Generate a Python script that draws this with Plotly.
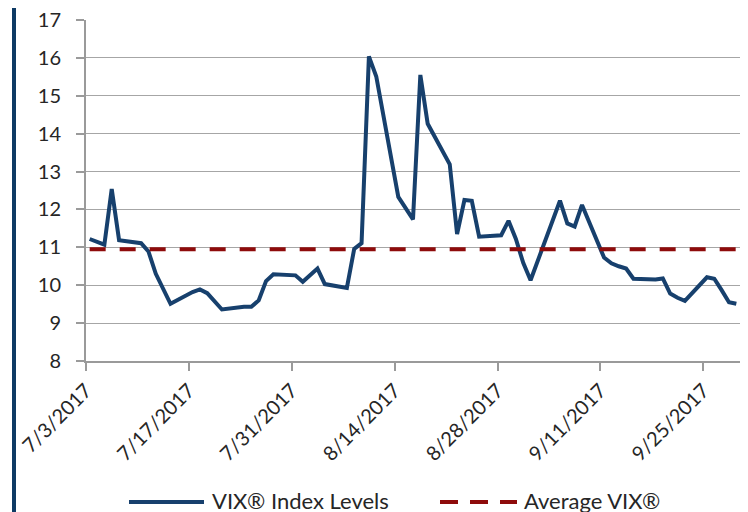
import pandas as pd
import plotly.graph_objects as go

# ---- data -------------------------------------------------------------
dates = [
    "2017-07-03", "2017-07-05", "2017-07-06", "2017-07-07", "2017-07-10", "2017-07-11",
    "2017-07-12", "2017-07-13", "2017-07-14", "2017-07-17", "2017-07-18", "2017-07-19",
    "2017-07-20", "2017-07-21", "2017-07-24", "2017-07-25", "2017-07-26", "2017-07-27",
    "2017-07-28", "2017-07-31",
    "2017-08-01", "2017-08-02", "2017-08-03", "2017-08-04", "2017-08-07", "2017-08-08",
    "2017-08-09", "2017-08-10", "2017-08-11", "2017-08-14", "2017-08-15", "2017-08-16",
    "2017-08-17", "2017-08-18", "2017-08-21", "2017-08-22", "2017-08-23", "2017-08-24",
    "2017-08-25", "2017-08-28", "2017-08-29", "2017-08-30", "2017-08-31",
    "2017-09-01", "2017-09-05", "2017-09-06", "2017-09-07", "2017-09-08", "2017-09-11",
    "2017-09-12", "2017-09-13", "2017-09-14", "2017-09-15", "2017-09-18", "2017-09-19",
    "2017-09-20", "2017-09-21", "2017-09-22", "2017-09-25", "2017-09-26", "2017-09-27",
    "2017-09-28", "2017-09-29",
]
vix_levels = [
    11.22, 11.07, 12.54, 11.19, 11.11, 10.89, 10.30, 9.90, 9.51, 9.82, 9.89, 9.79,
    9.58, 9.36, 9.43, 9.43, 9.60, 10.11, 10.29, 10.26,
    10.09, 10.28, 10.44, 10.03, 9.93, 10.96, 11.11, 16.04, 15.51, 12.33, 12.04, 11.74,
    15.55, 14.26, 13.19, 11.35, 12.25, 12.23, 11.28, 11.32, 11.70, 11.22, 10.59,
    10.13, 12.23, 11.63, 11.55, 12.12, 10.73, 10.58, 10.50, 10.44, 10.17, 10.15, 10.18,
    9.78, 9.67, 9.59, 10.21, 10.17, 9.87, 9.55, 9.51,
]
average_vix = 10.95
tick_dates = ["2017-07-03", "2017-07-17", "2017-07-31", "2017-08-14",
              "2017-08-28", "2017-09-11", "2017-09-25"]
tick_labels = ["7/3/2017", "7/17/2017", "7/31/2017", "8/14/2017",
               "8/28/2017", "9/11/2017", "9/25/2017"]
y_ticks = [8, 9, 10, 11, 12, 13, 14, 15, 16, 17]
series_names = ["VIX® Index Levels", "Average VIX®"]

# ---- style ------------------------------------------------------------
BLUE = "#17406D"
RED = "#8E0B0B"
GRID = "#A6A6A6"
TEXT = "#262626"
FONT = "Lato, 'Open Sans', sans-serif"

x = pd.to_datetime(dates)
half_day = pd.Timedelta(hours=12)
tickvals = pd.to_datetime(tick_dates) - half_day
x_range = [x[0] - half_day, x[-1] + half_day]

fig = go.Figure()
fig.add_trace(go.Scatter(
    x=x, y=vix_levels, mode="lines", name=series_names[0],
    line=dict(color=BLUE, width=4), showlegend=False,
))
fig.add_trace(go.Scatter(
    x=[x[0], x[-1]], y=[average_vix, average_vix], mode="lines", name=series_names[1],
    line=dict(color=RED, width=4, dash="16px,14px"), showlegend=False,
))

# page has an 8px body margin; figure sized to fill the rest of the window
OFF = 8
W, H = 748 - OFF, 512 - OFF
ML, MT = 86 - OFF, 20 - OFF
MR = W - (740 - OFF)
MB = H - (361 - OFF)
pw, ph = W - ML - MR, H - MT - MB


def px_x(p):
    return (p - OFF - ML) / pw


def px_y(p):
    return (H - MB - (p - OFF)) / ph


shapes = [
    # dark blue bar on the left edge
    dict(type="rect", xref="paper", yref="paper",
         x0=px_x(12), x1=px_x(16), y0=-0.6, y1=1.2,
         fillcolor="#0E3A64", line=dict(width=0), layer="above"),
    # legend samples
    dict(type="line", xref="paper", yref="paper",
         x0=px_x(129), x1=px_x(204), y0=px_y(502), y1=px_y(502),
         line=dict(color=BLUE, width=4)),
    dict(type="line", xref="paper", yref="paper",
         x0=px_x(440), x1=px_x(517), y0=px_y(502), y1=px_y(502),
         line=dict(color=RED, width=4, dash="18px,12px")),
]
annotations = [
    dict(xref="paper", yref="paper", x=px_x(210), y=px_y(500),
         xanchor="left", yanchor="middle", showarrow=False,
         text=series_names[0], font=dict(size=22, color=TEXT, family=FONT)),
    dict(xref="paper", yref="paper", x=px_x(522), y=px_y(500),
         xanchor="left", yanchor="middle", showarrow=False,
         text=series_names[1], font=dict(size=22, color=TEXT, family=FONT)),
]

fig.update_layout(
    width=W, height=H,
    margin=dict(l=ML, r=MR, t=MT, b=MB, pad=0, autoexpand=False),
    paper_bgcolor="white", plot_bgcolor="white",
    font=dict(family=FONT, color=TEXT, size=20),
    shapes=shapes, annotations=annotations,
    showlegend=False,
)
fig.update_xaxes(
    type="date", range=x_range, tickvals=tickvals, ticktext=tick_labels,
    tickangle=-45, ticks="outside", ticklen=8, tickcolor="#9A9A9A", tickwidth=1.5,
    showline=True, linecolor="#9A9A9A", linewidth=2, showgrid=False, zeroline=False,
    tickfont=dict(size=20, color=TEXT, family=FONT), automargin=False,
    ticklabeloverflow="allow",
)
fig.update_yaxes(
    range=[8, 17], tickvals=y_ticks, ticks="outside", ticklen=8,
    tickcolor="#9A9A9A", tickwidth=1.5,
    showline=True, linecolor="#9A9A9A", linewidth=2,
    showgrid=True, gridcolor=GRID, gridwidth=1.2, zeroline=False,
    tickfont=dict(size=20, color=TEXT, family=FONT), ticklabelstandoff=11,
    automargin=False, ticklabeloverflow="allow",
)

fig.write_html("out.html")
